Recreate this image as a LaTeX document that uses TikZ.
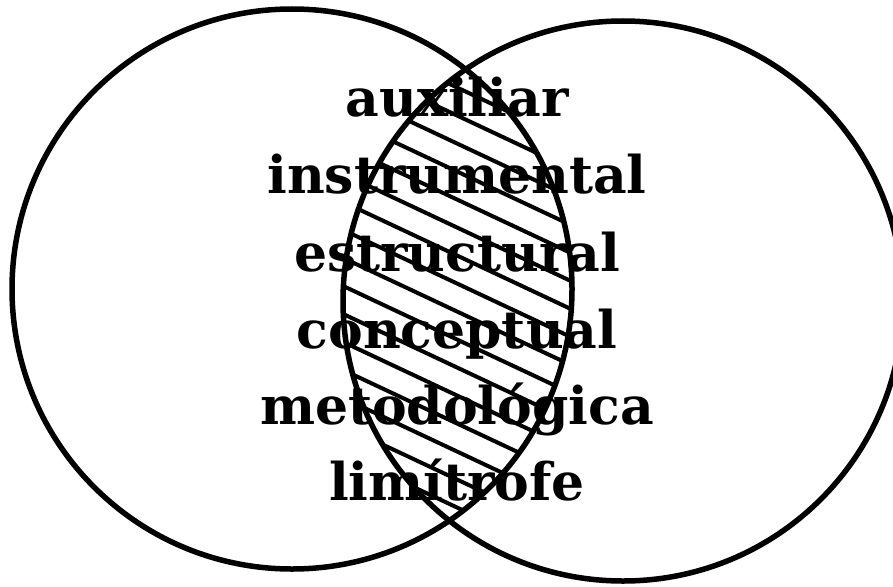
\documentclass[tikz,border=0pt]{standalone}
\usepackage{fontspec}
\setmainfont{DejaVu Serif}
\begin{document}
\begin{tikzpicture}[x=1pt,y=-1pt,
  circ/.style={line width=5.5pt},
  hatchline/.style={line width=4pt},
  lbl/.style={anchor=base, inner sep=0pt, font=\fontsize{52}{62}\selectfont\bfseries}]
\useasboundingbox (0,0) rectangle (893,586);
\clip (0,0) rectangle (893,586);
\coordinate (cL) at (292,289);
\coordinate (cR) at (623,301);
\begin{scope}
  \clip (cL) circle[radius=280pt];
  \clip (cR) circle[radius=280pt];
  \foreach \k in {-4,...,16}{
    \draw[hatchline] (330,{83.8+28*\k}) -- (590,{83.8+28*\k+122.2});
  }
\end{scope}
\draw[circ] (cL) circle[radius=280pt];
\draw[circ] (cR) circle[radius=280pt];
\node[lbl] (t1) at (457,116) {auxiliar};
\node[lbl] (t2) at (457,193) {instrumental};
\node[lbl] (t3) at (457,271) {estructural};
\node[lbl] (t4) at (457,348) {conceptual};
\node[lbl] (t5) at (457,424) {metodológica};
\node[lbl] (t6) at (457,500) {limítrofe};
\end{tikzpicture}
\end{document}
